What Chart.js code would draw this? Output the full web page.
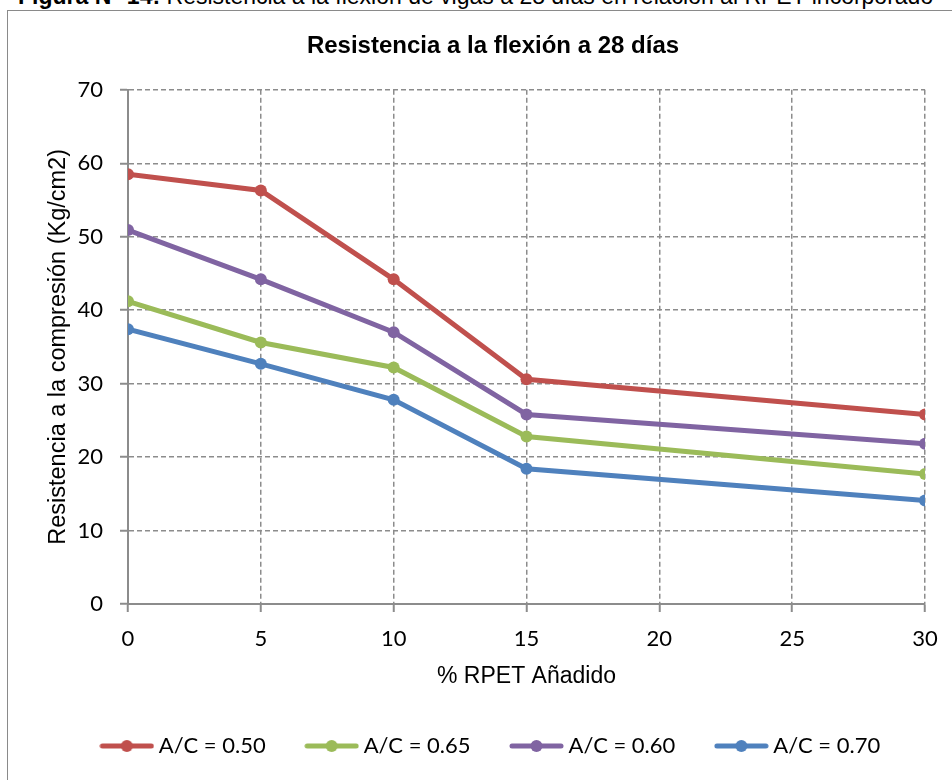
<!DOCTYPE html>
<html>
<head>
<meta charset="utf-8">
<script src="https://cdn.jsdelivr.net/npm/chart.js@4"></script>
<style>
  html, body { margin: 0; padding: 0; background: #fff; overflow: hidden; }
  body { width: 952px; height: 780px; position: relative; }
  #caption { position: absolute; left: 18px; top: -15px; font-family: "Liberation Sans", Arial, sans-serif; font-size: 23px; line-height: 23px; white-space: nowrap; color: #000; }
  #frame { position: absolute; left: 7px; top: 10px; width: 1000px; height: 800px; border: 1.5px solid #8a8a8a; box-sizing: border-box; }
  #wrap { position: absolute; left: 7px; top: 10px; width: 972px; height: 780px; }
</style>
</head>
<body>
<div id="caption"><b>Figura N° 14:</b> Resistencia a la flexión de vigas a 28 días en relación al RPET incorporado</div>
<div id="frame"></div>
<div id="wrap"><canvas id="chart" width="972" height="780"></canvas></div>
<script>
// % RPET added (x axis)
const rpet = [0, 5, 10, 15, 30];

// flexural strength per water/cement ratio
const ac050 = [58.5, 56.3, 44.2, 30.6, 25.8];
const ac065 = [41.2, 35.6, 32.2, 22.8, 17.7];
const ac060 = [50.9, 44.2, 37.0, 25.8, 21.8];
const ac070 = [37.4, 32.7, 27.8, 18.4, 14.1];

const seriesNames = ['A/C = 0.50', 'A/C = 0.65', 'A/C = 0.60', 'A/C = 0.70'];
const seriesColors = ['#C0504D', '#9BBB59', '#8064A2', '#4F81BD'];

const gridGray = '#8c8c8c';

function toPoints(vals) {
    return rpet.map((x, i) => ({ x: x, y: vals[i] }));
}

// little line+dot icon for the legend, like the excel one
function legendIcon(color) {
    const c = document.createElement('canvas');
    c.width = 55;
    c.height = 14;
    const g = c.getContext('2d');
    g.strokeStyle = color;
    g.lineWidth = 5;
    g.lineCap = 'round';
    g.beginPath();
    g.moveTo(3, 7);
    g.lineTo(52, 7);
    g.stroke();
    g.fillStyle = color;
    g.beginPath();
    g.arc(27.5, 7, 6, 0, Math.PI * 2);
    g.fill();
    return c;
}

const datasets = [ac050, ac065, ac060, ac070].map((vals, i) => ({
    label: seriesNames[i],
    data: toPoints(vals),
    borderColor: seriesColors[i],
    backgroundColor: seriesColors[i],
    pointBackgroundColor: seriesColors[i],
    pointBorderWidth: 0,
    pointRadius: 6,
    borderWidth: 5,
    tension: 0
}));

const ctx = document.getElementById('chart').getContext('2d');
new Chart(ctx, {
    type: 'line',
    data: { datasets: datasets },
    options: {
        responsive: false,
        animation: false,
        devicePixelRatio: 1,
        layout: { padding: { left: 0, right: 0, top: 0, bottom: 23 } },
        plugins: {
            title: {
                display: true,
                text: 'Resistencia a la flexión a 28 días',
                color: '#000',
                font: { family: '"Liberation Sans", Arial, sans-serif', size: 24, weight: 'bold' },
                padding: { top: 22, bottom: 29 }
            },
            legend: {
                position: 'bottom',
                labels: {
                    color: '#000',
                    font: { family: 'Lato, sans-serif', size: 22 },
                    usePointStyle: true,
                    pointStyleWidth: 42,
                    padding: 45,
                    generateLabels: (chart) => chart.data.datasets.map((ds, i) => ({
                        text: ds.label,
                        pointStyle: legendIcon(ds.borderColor),
                        fillStyle: ds.borderColor,
                        strokeStyle: ds.borderColor,
                        lineWidth: 0,
                        hidden: false,
                        datasetIndex: i
                    }))
                }
            },
            tooltip: { enabled: false }
        },
        scales: {
            x: {
                type: 'linear',
                min: 0,
                max: 30,
                ticks: { stepSize: 5, color: '#000', padding: 14, font: { family: 'Lato, sans-serif', size: 22 } },
                grid: { color: gridGray, lineWidth: 1.5, tickLength: 8, tickColor: gridGray, tickWidth: 2, tickBorderDash: [] },
                border: { color: gridGray, width: 2, dash: [5, 3] },
                title: {
                    display: true,
                    text: '% RPET Añadido',
                    color: '#000',
                    font: { family: '"Liberation Sans", Arial, sans-serif', size: 23 },
                    padding: { top: 0, bottom: 0 }
                },
                afterFit: (s) => { s.height = 86; }
            },
            y: {
                min: 0,
                max: 70,
                ticks: { stepSize: 10, color: '#000', padding: 17, font: { family: 'Lato, sans-serif', size: 22 } },
                grid: { color: gridGray, lineWidth: 1.5, tickLength: 8, tickColor: gridGray, tickWidth: 2, tickBorderDash: [] },
                border: { color: gridGray, width: 2, dash: [5, 3] },
                title: {
                    display: true,
                    text: 'Resistencia a la compresión (Kg/cm2)',
                    color: '#000',
                    font: { family: '"Liberation Sans", Arial, sans-serif', size: 23.5 },
                    padding: { top: 37, bottom: 0 }
                },
                afterFit: (s) => { s.width = 121; }
            },
            // empty space on the right so title/legend sit like the original
            pad: {
                type: 'linear',
                position: 'right',
                display: true,
                ticks: { display: false },
                grid: { display: false, drawTicks: false },
                border: { display: false },
                afterFit: (s) => { s.width = 54; }
            }
        }
    }
});
</script>
</body>
</html>
